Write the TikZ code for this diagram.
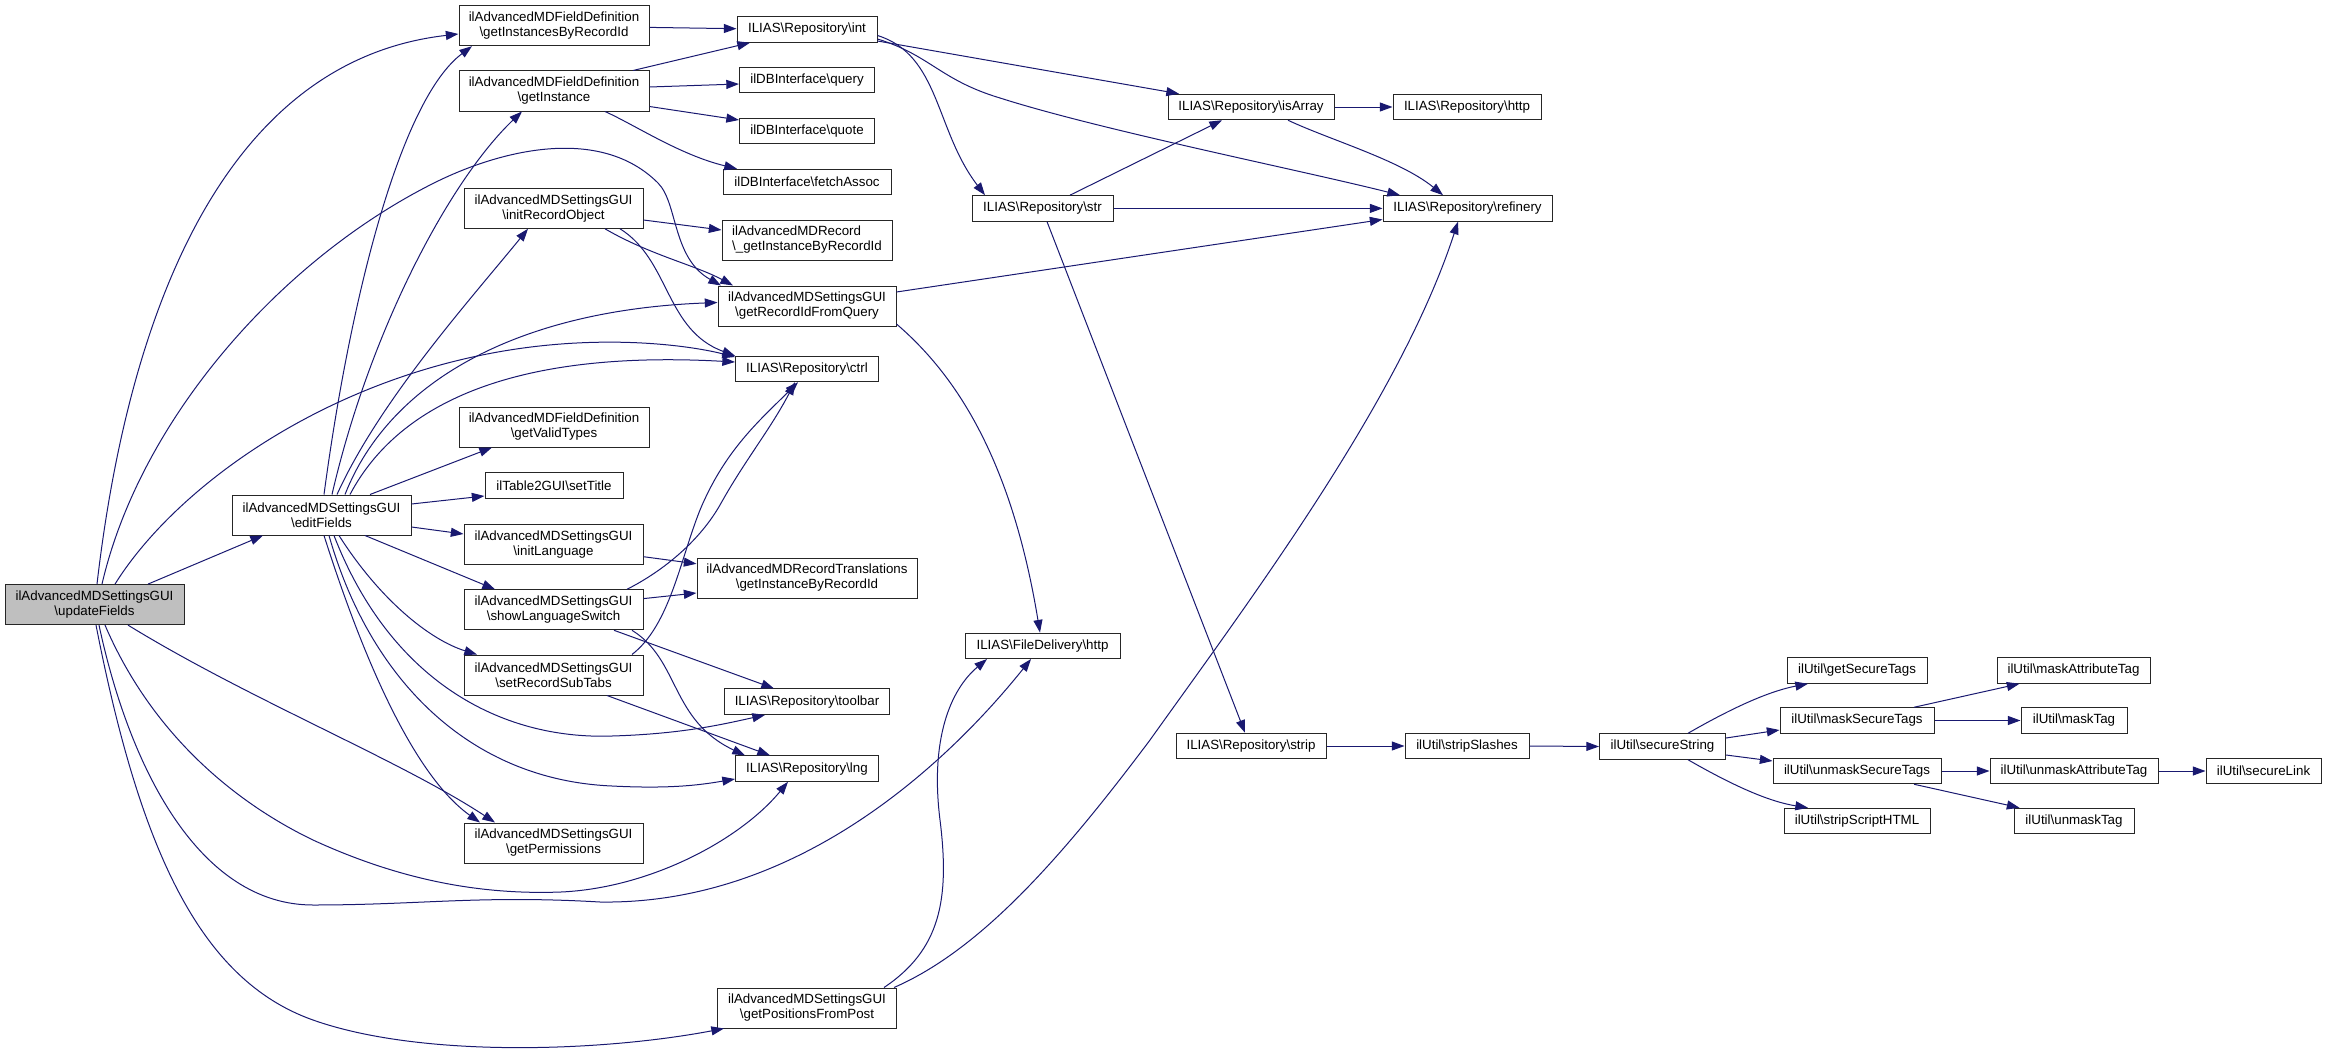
\documentclass[tikz,border=0pt]{standalone}
\usepackage{fontspec}
\setmainfont{Liberation Sans}
\usetikzlibrary{arrows.meta}
\definecolor{edgeblue}{RGB}{25,25,112}
\definecolor{rootgray}{RGB}{191,191,191}
\newcommand{\bsl}{\textbackslash}
\begin{document}
\begin{tikzpicture}[x=0.75pt,y=-0.75pt,
  box/.style={draw=black!85, line width=0.75pt, fill=white, inner sep=0pt,
    font=\fontsize{10}{11.3}\selectfont, align=center},
  one/.style={minimum height=19.1pt},
  two/.style={minimum height=30pt},
  bw/.style={minimum width=#1*0.75pt},
  edg/.style={draw=edgeblue, line width=0.75pt, -{Triangle[length=9.5pt,width=6.75pt]}}]
\useasboundingbox (0,0) rectangle (2327,1056);

% nodes
\node[box,two,bw=179,fill=rootgray] (U) at (94.5,604.6) {ilAdvancedMDSettingsGUI\\\bsl updateFields};
\node[box,two,bw=179] (E) at (321.5,515) {ilAdvancedMDSettingsGUI\\\bsl editFields};
\node[box,two,bw=190] (GIR) at (554,25.7) {ilAdvancedMDFieldDefinition\\\bsl getInstancesByRecordId};
\node[box,two,bw=190] (GI) at (554,91) {ilAdvancedMDFieldDefinition\\\bsl getInstance};
\node[box,two,bw=179] (IRO) at (553.5,208.3) {ilAdvancedMDSettingsGUI\\\bsl initRecordObject};
\node[box,two,bw=190] (GVT) at (554,427) {ilAdvancedMDFieldDefinition\\\bsl getValidTypes};
\node[box,one,bw=138] (ST) at (554,485.3) {ilTable2GUI\bsl setTitle};
\node[box,two,bw=179] (IL) at (553.5,544.6) {ilAdvancedMDSettingsGUI\\\bsl initLanguage};
\node[box,two,bw=179] (SLS) at (553.5,609.8) {ilAdvancedMDSettingsGUI\\\bsl showLanguageSwitch};
\node[box,two,bw=179] (SRST) at (553.5,675) {ilAdvancedMDSettingsGUI\\\bsl setRecordSubTabs};
\node[box,two,bw=179] (GP) at (553.5,843) {ilAdvancedMDSettingsGUI\\\bsl getPermissions};
\node[box,one,bw=140] (INT) at (807,29.5) {ILIAS\bsl Repository\bsl int};
\node[box,one,bw=135] (QRY) at (807,80) {ilDBInterface\bsl query};
\node[box,one,bw=135] (QUO) at (807,131) {ilDBInterface\bsl quote};
\node[box,one,bw=168] (FA) at (807,182) {ilDBInterface\bsl fetchAssoc};
\node[box,two,bw=170,align=left] (RGI) at (807,240) {ilAdvancedMDRecord\\\bsl\_getInstanceByRecordId};
\node[box,two,bw=178] (GRQ) at (807,306) {ilAdvancedMDSettingsGUI\\\bsl getRecordIdFromQuery};
\node[box,one,bw=143] (CTRL) at (807,369) {ILIAS\bsl Repository\bsl ctrl};
\node[box,two,bw=220] (TR) at (807,578) {ilAdvancedMDRecordTranslations\\\bsl getInstanceByRecordId};
\node[box,one,bw=165.5] (TB) at (807,701.7) {ILIAS\bsl Repository\bsl toolbar};
\node[box,one,bw=143] (LNG) at (807,768.6) {ILIAS\bsl Repository\bsl lng};
\node[box,two,bw=179] (GPP) at (807,1008) {ilAdvancedMDSettingsGUI\\\bsl getPositionsFromPost};
\node[box,one,bw=141] (STR) at (1042.5,208.4) {ILIAS\bsl Repository\bsl str};
\node[box,one,bw=155] (FDH) at (1042.5,645.8) {ILIAS\bsl FileDelivery\bsl http};
\node[box,one,bw=166] (ISA) at (1251,107) {ILIAS\bsl Repository\bsl isArray};
\node[box,one,bw=150] (STRIP) at (1251,746) {ILIAS\bsl Repository\bsl strip};
\node[box,one,bw=148] (RH) at (1467,107) {ILIAS\bsl Repository\bsl http};
\node[box,one,bw=169] (REF) at (1467.5,208.4) {ILIAS\bsl Repository\bsl refinery};
\node[box,one,bw=124] (SS) at (1467,746) {ilUtil\bsl stripSlashes};
\node[box,one,bw=126] (SEC) at (1662.5,746.5) {ilUtil\bsl secureString};
\node[box,one,bw=140] (GST) at (1857,670.5) {ilUtil\bsl getSecureTags};
\node[box,one,bw=154] (MST) at (1857,720.5) {ilUtil\bsl maskSecureTags};
\node[box,one,bw=168] (UST) at (1857,771) {ilUtil\bsl unmaskSecureTags};
\node[box,one,bw=146] (SSH) at (1857,821) {ilUtil\bsl stripScriptHTML};
\node[box,one,bw=153] (MAT) at (2073.5,670.5) {ilUtil\bsl maskAttributeTag};
\node[box,one,bw=106] (MT) at (2074,720.5) {ilUtil\bsl maskTag};
\node[box,one,bw=168] (UAT) at (2074,771) {ilUtil\bsl unmaskAttributeTag};
\node[box,one,bw=120] (UT) at (2074,821) {ilUtil\bsl unmaskTag};
\node[box,one,bw=115] (SL) at (2263.5,771) {ilUtil\bsl secureLink};

% updateFields
\draw[edg] (U.north -| 97,0) .. controls (130,300) and (230,60) .. (GIR.west |- 0,34);
\draw[edg] (U.north -| 102,0) .. controls (140,420) and (280,260) .. (434,183)
  .. controls (500,150) and (600,125) .. (658,183)
  .. controls (678,203) and (672,258) .. (GRQ.north -| 721,0);
\draw[edg] (U.north -| 115,0) .. controls (180,480) and (350,360) .. (561,344)
  .. controls (640,338) and (700,348) .. (CTRL.west |- 0,357);
\draw[edg] (U.north -| 148,0) -- (E.south -| 263,0);
\draw[edg] (U.south -| 128,0) .. controls (250,700) and (400,760) .. (GP.north -| 495,0);
\draw[edg] (U.south -| 105,0) .. controls (150,730) and (230,800) .. (313,840)
  .. controls (400,880) and (480,895) .. (561,892)
  .. controls (650,888) and (740,840) .. (LNG.south -| 788,0);
\draw[edg] (U.south -| 99,0) .. controls (130,770) and (200,905) .. (313,905)
  .. controls (420,905) and (480,895) .. (600,902)
  .. controls (800,905) and (950,760) .. (FDH.south -| 1031,0);
\draw[edg] (U.south -| 96,0) .. controls (140,850) and (200,980) .. (313,1020)
  .. controls (420,1058) and (600,1052) .. (GPP.south -| 724,0);

% editFields
\draw[edg] (E.north -| 324,0) .. controls (350,300) and (400,100) .. (GIR.south -| 472,0);
\draw[edg] (E.north -| 332,0) .. controls (370,330) and (450,180) .. (GI.south -| 522,0);
\draw[edg] (E.north -| 337,0) .. controls (380,400) and (470,300) .. (IRO.south -| 528,0);
\draw[edg] (E.north -| 345,0) .. controls (390,380) and (520,310) .. (GRQ.west |- 0,302.5);
\draw[edg] (E.north -| 350,0) .. controls (400,400) and (520,350) .. (CTRL.west |- 0,362);
\draw[edg] (E.north -| 370,0) -- (GVT.south -| 492,0);
\draw[edg] (E.east |- 0,504) -- (ST.west |- 0,496);
\draw[edg] (E.east |- 0,527) -- (IL.west |- 0,534);
\draw[edg] (E.south -| 365,0) -- (SLS.north -| 495,0);
\draw[edg] (E.south -| 339,0) .. controls (380,600) and (430,640) .. (SRST.north -| 477,0);
\draw[edg] (E.south -| 334,0) .. controls (390,680) and (500,740) .. (612,736)
  .. controls (680,734) and (720,725) .. (TB.south -| 765,0);
\draw[edg] (E.south -| 329,0) .. controls (370,680) and (470,780) .. (612,786)
  .. controls (670,789) and (700,785) .. (LNG.west |- 0,779);
\draw[edg] (E.south -| 324,0) .. controls (370,680) and (420,780) .. (GP.north -| 480,0);

% getInstancesByRecordId, getInstance
\draw[edg] (GIR.east |- 0,27.4) -- (INT.west |- 0,28.7);
\draw[edg] (GI.north -| 633,0) -- (INT.south -| 750,0);
\draw[edg] (GI.east |- 0,87) -- (QRY.west |- 0,84);
\draw[edg] (GI.east |- 0,106.5) -- (QUO.west |- 0,120);
\draw[edg] (GI.south -| 605,0) .. controls (635,125) and (680,155) .. (FA.north -| 737,0);

% initRecordObject
\draw[edg] (IRO.east |- 0,220) -- (RGI.west |- 0,230);
\draw[edg] (IRO.south -| 605,0) .. controls (650,255) and (695,265) .. (GRQ.north -| 733,0);
\draw[edg] (IRO.south -| 620,0) .. controls (670,260) and (665,330) .. (CTRL.north west);

% getRecordIdFromQuery
\draw[edg] (GRQ.east |- 0,292) -- (REF.west |- 0,219.5);
\draw[edg] (GRQ.east |- 0,324) .. controls (950,370) and (1010,450) .. (FDH.north -| 1040,0);

% int
\draw[edg] (INT.east |- 0,41) -- (ISA.north -| 1179,0);
\draw[edg] (INT.east |- 0,35.5) .. controls (940,55) and (935,130) .. (STR.north -| 985,0);
\draw[edg] (INT.east |- 0,39) .. controls (930,55) and (940,80) .. (1000,98)
  .. controls (1100,130) and (1300,170) .. (REF.north -| 1400,0);

% str, isArray
\draw[edg] (STR.north -| 1070,0) -- (ISA.south -| 1222,0);
\draw[edg] (STR.east) -- (REF.west);
\draw[edg] (STR.south -| 1047,0) -- (STRIP.north -| 1245,0);
\draw[edg] (ISA.east) -- (RH.west);
\draw[edg] (ISA.south -| 1288,0) .. controls (1330,140) and (1400,160) .. (REF.north -| 1443,0);

% language / tabs
\draw[edg] (IL.east |- 0,556.7) -- (TR.west |- 0,563.8);
\draw[edg] (SLS.east |- 0,598.6) -- (TR.west |- 0,593);
\draw[edg] (SLS.north -| 627,0) .. controls (665,570) and (700,540) .. (720,505)
  .. controls (745,460) and (770,430) .. (CTRL.south -| 795,0);
\draw[edg] (SRST.north -| 632,0) .. controls (670,625) and (680,560) .. (700,510)
  .. controls (725,450) and (760,420) .. (CTRL.south -| 798,0);
\draw[edg] (SLS.south -| 614,0) -- (TB.north -| 774,0);
\draw[edg] (SLS.south -| 632,0) .. controls (680,660) and (670,720) .. (LNG.north -| 745,0);
\draw[edg] (SRST.south -| 607,0) -- (LNG.north -| 770,0);

% getPositionsFromPost
\draw[edg] (GPP.north -| 884,0) .. controls (940,950) and (950,900) .. (940,820)
  .. controls (930,740) and (950,690) .. (FDH.south -| 987,0);
\draw[edg] (GPP.north -| 894,0) .. controls (980,950) and (1060,860) .. (1150,740)
  .. controls (1250,600) and (1400,400) .. (REF.south -| 1458,0);

% ilUtil cluster
\draw[edg] (STRIP.east) -- (SS.west);
\draw[edg] (SS.east) -- (SEC.west);
\draw[edg] (SEC.north -| 1688,0) .. controls (1725,712) and (1765,692) .. (GST.south -| 1808,0);
\draw[edg] (SEC.east |- 0,738) -- (MST.west |- 0,730);
\draw[edg] (SEC.east |- 0,755) -- (UST.west |- 0,761);
\draw[edg] (SEC.south -| 1688,0) .. controls (1725,781) and (1765,801) .. (SSH.north -| 1808,0);
\draw[edg] (MST.north -| 1914,0) -- (MAT.south -| 2019.5,0);
\draw[edg] (MST.east) -- (MT.west);
\draw[edg] (UST.east) -- (UAT.west);
\draw[edg] (UST.south -| 1914,0) -- (UT.north -| 2019.5,0);
\draw[edg] (UAT.east) -- (SL.west);
\end{tikzpicture}
\end{document}
